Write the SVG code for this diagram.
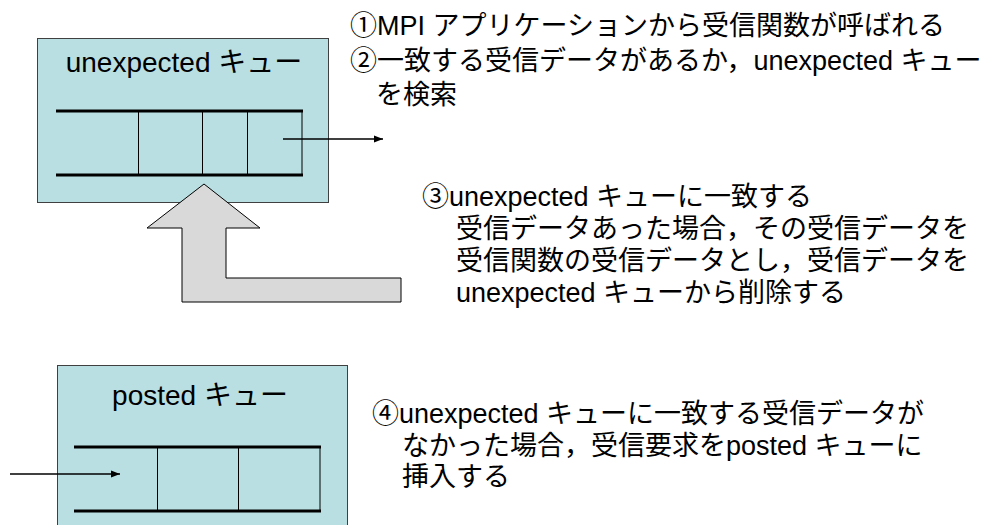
<svg xmlns="http://www.w3.org/2000/svg" width="990" height="525" viewBox="0 0 990 525">
<defs>
<marker id="ah" viewBox="0 0 10 10" refX="10" refY="5" markerWidth="10" markerHeight="9" markerUnits="userSpaceOnUse" orient="auto"><path d="M0,1 L10,5 L0,9 z" fill="#000"/></marker>
<style>
.box{fill:#b9dfe2;stroke:#404040;stroke-width:1}
.rail{stroke:#000;stroke-width:3}
.cell{stroke:#000;stroke-width:1}
.t{font-family:"Liberation Sans","Noto Sans CJK JP",sans-serif;font-size:27px;fill:#000}
.title{font-size:28px}
.conn{stroke:#000;stroke-width:1.3;fill:none;marker-end:url(#ah)}
</style>
</defs>
<rect width="990" height="525" fill="#fff"/>
<g id="unexpected-queue">
<rect class="box" x="37.5" y="38.5" width="291" height="164"/>
<text class="t title" x="184" y="72" text-anchor="middle">unexpected キュー</text>
<line class="rail" x1="56" y1="111" x2="303" y2="111"/>
<line class="rail" x1="56" y1="175" x2="303" y2="175"/>
<line class="cell" x1="138.5" y1="111" x2="138.5" y2="175"/>
<line class="cell" x1="202.5" y1="111" x2="202.5" y2="175"/>
<line class="cell" x1="247.5" y1="111" x2="247.5" y2="175"/>
<line class="cell" x1="302" y1="111" x2="302" y2="175"/>
</g>
<g id="posted-queue">
<rect class="box" x="57.5" y="365.5" width="290" height="170"/>
<text class="t title" x="200" y="405" text-anchor="middle">posted キュー</text>
<line class="rail" x1="74" y1="447" x2="321" y2="447"/>
<line class="rail" x1="74" y1="511" x2="321" y2="511"/>
<line class="cell" x1="157.5" y1="447" x2="157.5" y2="511"/>
<line class="cell" x1="238.5" y1="447" x2="238.5" y2="511"/>
<line class="cell" x1="320" y1="447" x2="320" y2="511"/>
</g>
<g id="return-arrow">
<polygon points="204,184 260,228 226,228 226,278 401,278 401,302 182,302 182,228 147,228" fill="#d9d9d9" stroke="#000" stroke-width="1"/>
</g>
<g id="connectors">
<line class="conn" x1="283" y1="139" x2="383" y2="139"/>
<line class="conn" x1="10" y1="474" x2="120" y2="474"/>
</g>
<g id="note-1-2">
<text class="t" x="350" y="35">①MPI アプリケーションから受信関数が呼ばれる</text>
<text class="t" x="350" y="70">②一致する受信データがあるか，unexpected キュー</text>
<text class="t" x="376" y="104">を検索</text>
</g>
<g id="note-3">
<text class="t" x="422" y="206">③unexpected キューに一致する</text>
<text class="t" x="456" y="238">受信データあった場合，その受信データを</text>
<text class="t" x="456" y="270">受信関数の受信データとし，受信データを</text>
<text class="t" x="456" y="302">unexpected キューから削除する</text>
</g>
<g id="note-4">
<text class="t" x="372" y="423">④unexpected キューに一致する受信データが</text>
<text class="t" x="402" y="455">なかった場合，受信要求をposted キューに</text>
<text class="t" x="402" y="486">挿入する</text>
</g>
</svg>
